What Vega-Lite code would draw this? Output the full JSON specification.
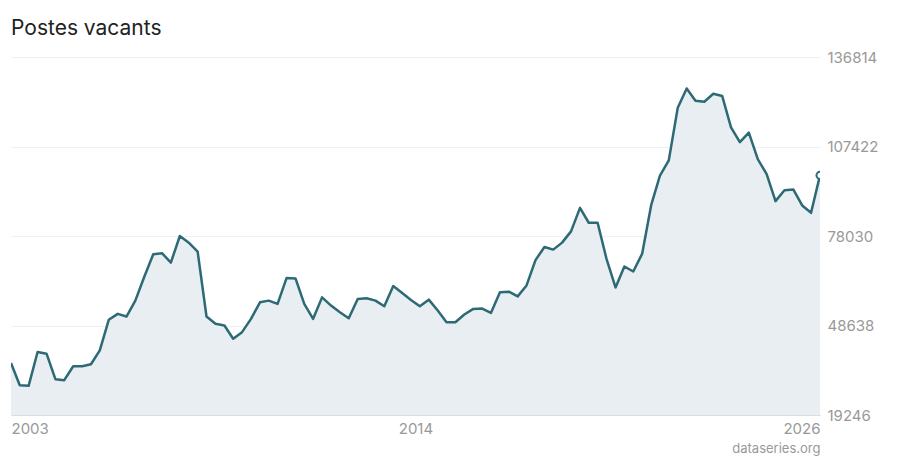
{
  "$schema": "https://vega.github.io/schema/vega-lite/v6.json",
  "width": 809,
  "height": 358,
  "autosize": {"type": "none"},
  "padding": {"left": 11, "top": 57, "right": 80, "bottom": 45},
  "background": "#ffffff",
  "title": {
    "text": "Postes vacants",
    "anchor": "start",
    "font": "Inter",
    "fontSize": 21,
    "fontWeight": "normal",
    "color": "#222222",
    "baseline": "alphabetic",
    "offset": -6
  },
  "config": {
    "view": {"stroke": null},
    "font": "Inter"
  },
  "data": {
    "values": [
      {"d": "2003-01-01", "v": 36330}, {"d": "2003-04-01", "v": 29040}, {"d": "2003-07-01", "v": 28820}, {"d": "2003-10-01", "v": 39920},
      {"d": "2004-01-01", "v": 39390}, {"d": "2004-04-01", "v": 31000}, {"d": "2004-07-01", "v": 30680}, {"d": "2004-10-01", "v": 35250},
      {"d": "2005-01-01", "v": 35250}, {"d": "2005-04-01", "v": 35900}, {"d": "2005-07-01", "v": 40480}, {"d": "2005-10-01", "v": 50500},
      {"d": "2006-01-01", "v": 52460}, {"d": "2006-04-01", "v": 51580}, {"d": "2006-07-01", "v": 56800}, {"d": "2006-10-01", "v": 64650},
      {"d": "2007-01-01", "v": 72050}, {"d": "2007-04-01", "v": 72380}, {"d": "2007-07-01", "v": 69310}, {"d": "2007-10-01", "v": 78030},
      {"d": "2008-01-01", "v": 75850}, {"d": "2008-04-01", "v": 72910}, {"d": "2008-07-01", "v": 51580}, {"d": "2008-10-01", "v": 49190},
      {"d": "2009-01-01", "v": 48640}, {"d": "2009-04-01", "v": 44290}, {"d": "2009-07-01", "v": 46450}, {"d": "2009-10-01", "v": 50830},
      {"d": "2010-01-01", "v": 56250}, {"d": "2010-04-01", "v": 56800}, {"d": "2010-07-01", "v": 55730}, {"d": "2010-10-01", "v": 64220},
      {"d": "2011-01-01", "v": 64090}, {"d": "2011-04-01", "v": 55730}, {"d": "2011-07-01", "v": 50830}, {"d": "2011-10-01", "v": 57880},
      {"d": "2012-01-01", "v": 55170}, {"d": "2012-04-01", "v": 52990}, {"d": "2012-07-01", "v": 51030}, {"d": "2012-10-01", "v": 57350},
      {"d": "2013-01-01", "v": 57560}, {"d": "2013-04-01", "v": 56800}, {"d": "2013-07-01", "v": 54950}, {"d": "2013-10-01", "v": 61600},
      {"d": "2014-01-01", "v": 59320}, {"d": "2014-04-01", "v": 57030}, {"d": "2014-07-01", "v": 54950}, {"d": "2014-10-01", "v": 57130},
      {"d": "2015-01-01", "v": 53540}, {"d": "2015-04-01", "v": 49720}, {"d": "2015-07-01", "v": 49720}, {"d": "2015-10-01", "v": 52230},
      {"d": "2016-01-01", "v": 54090}, {"d": "2016-04-01", "v": 54190}, {"d": "2016-07-01", "v": 52790}, {"d": "2016-10-01", "v": 59520},
      {"d": "2017-01-01", "v": 59750}, {"d": "2017-04-01", "v": 58210}, {"d": "2017-07-01", "v": 61800}, {"d": "2017-10-01", "v": 70100},
      {"d": "2018-01-01", "v": 74440}, {"d": "2018-04-01", "v": 73560}, {"d": "2018-07-01", "v": 75850}, {"d": "2018-10-01", "v": 79550},
      {"d": "2019-01-01", "v": 87280}, {"d": "2019-04-01", "v": 82380}, {"d": "2019-07-01", "v": 82380}, {"d": "2019-10-01", "v": 70420},
      {"d": "2020-01-01", "v": 61150}, {"d": "2020-04-01", "v": 68010}, {"d": "2020-07-01", "v": 66370}, {"d": "2020-10-01", "v": 72250},
      {"d": "2021-01-01", "v": 88160}, {"d": "2021-04-01", "v": 97860}, {"d": "2021-07-01", "v": 102860}, {"d": "2021-10-01", "v": 120170},
      {"d": "2022-01-01", "v": 126470}, {"d": "2022-04-01", "v": 122450}, {"d": "2022-07-01", "v": 122130}, {"d": "2022-10-01", "v": 124740},
      {"d": "2023-01-01", "v": 123990}, {"d": "2023-04-01", "v": 113730}, {"d": "2023-07-01", "v": 108830}, {"d": "2023-10-01", "v": 112000},
      {"d": "2024-01-01", "v": 103280}, {"d": "2024-04-01", "v": 98380}, {"d": "2024-07-01", "v": 89470}, {"d": "2024-10-01", "v": 93060},
      {"d": "2025-01-01", "v": 93290}, {"d": "2025-04-01", "v": 88060}, {"d": "2025-07-01", "v": 85640}, {"d": "2025-10-01", "v": 97950}
    ]
  },
  "encoding": {
    "x": {
      "field": "d",
      "type": "temporal",
      "scale": {
        "type": "utc",
        "nice": false,
        "domain": [
          {"year": 2003, "month": 1, "date": 1, "utc": true},
          {"year": 2025, "month": 10, "date": 1, "utc": true}
        ]
      },
      "axis": {
        "values": [
          {"year": 2003, "month": 1, "date": 1, "utc": true},
          {"year": 2014, "month": 5, "date": 17, "utc": true},
          {"year": 2025, "month": 10, "date": 1, "utc": true}
        ],
        "labelExpr": "'' + (utcyear(datum.value) + (utcmonth(datum.value) >= 9 ? 1 : 0))",
        "labelFlush": true,
        "labelFont": "Inter",
        "labelFontSize": 15,
        "labelColor": "#999999",
        "labelPadding": 6,
        "ticks": false,
        "grid": false,
        "domain": true,
        "domainColor": "#dddddd",
        "domainWidth": 1,
        "title": "dataseries.org",
        "titleAnchor": "end",
        "titleAlign": "right",
        "titleFont": "Inter",
        "titleFontSize": 13,
        "titleFontWeight": "normal",
        "titleColor": "#999999",
        "titlePadding": 6
      }
    },
    "y": {
      "field": "v",
      "type": "quantitative",
      "scale": {"domain": [19246, 136814], "nice": false, "zero": false},
      "axis": {
        "orient": "right",
        "values": [19246, 48638, 78030, 107422, 136814],
        "format": "d",
        "labelFont": "Inter",
        "labelFontSize": 15,
        "labelColor": "#999999",
        "labelPadding": 7,
        "ticks": false,
        "domain": false,
        "grid": true,
        "gridColor": "#f0f0f0",
        "gridWidth": 1,
        "title": null
      }
    }
  },
  "layer": [
    {"mark": {"type": "area", "color": "#e8eef1", "opacity": 1, "clip": true}},
    {"mark": {"type": "line", "color": "#2d6a76", "strokeWidth": 2.5, "strokeJoin": "round", "clip": true}},
    {
      "transform": [{"filter": "utcyear(datum.d) == 2025 && utcmonth(datum.d) == 9"}],
      "mark": {"type": "point", "shape": "circle", "filled": false, "fill": "#ffffff", "stroke": "#2d6a76", "strokeWidth": 2, "size": 50, "opacity": 1, "clip": true}
    }
  ]
}
